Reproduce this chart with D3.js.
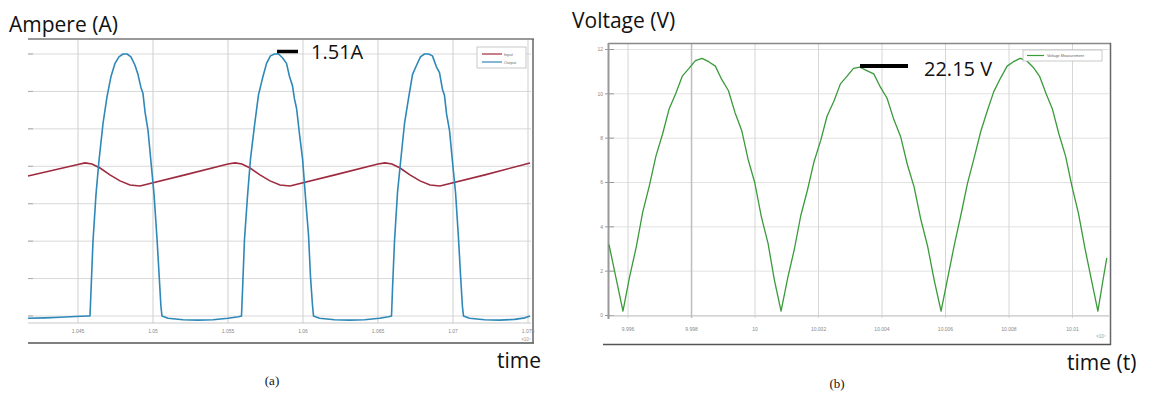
<!DOCTYPE html>
<html>
<head>
<meta charset="utf-8">
<script src="https://cdn.jsdelivr.net/npm/d3@7"></script>
<style>
  html, body { margin: 0; padding: 0; background: #fff; }
  svg { display: block; }
</style>
</head>
<body>
<svg id="chart" width="1154" height="403"></svg>
<script>
// ---------------- DATA ----------------
// Panel (a): current (A) vs time (x10^4)
const timeTicksA = [1.045, 1.05, 1.055, 1.06, 1.065, 1.07, 1.075];
const ampTicks = [0, 0.2, 0.4, 0.6, 0.8, 1.0, 1.2, 1.4];

const inputTime = [1.04167, 1.0450, 1.04547, 1.04593, 1.04647, 1.04713, 1.0478, 1.04847, 1.04913, 1.05213, 1.0550, 1.05547, 1.05593, 1.05647, 1.05713, 1.0578, 1.05847, 1.05913, 1.06213, 1.0650, 1.06547, 1.06593, 1.06647, 1.06713, 1.0678, 1.06847, 1.06913, 1.07213, 1.07513];
const inputAmp  = [0.748, 0.810, 0.818, 0.812, 0.791, 0.754, 0.722, 0.700, 0.695, 0.754, 0.812, 0.818, 0.812, 0.791, 0.754, 0.722, 0.700, 0.695, 0.754, 0.812, 0.818, 0.812, 0.791, 0.754, 0.722, 0.700, 0.695, 0.754, 0.818];

const outputTime = [
  1.04167, 1.0428, 1.0438, 1.0448, 1.04567,
  1.0458, 1.04587, 1.0460, 1.0462, 1.0464, 1.04667, 1.04693, 1.0472, 1.04747, 1.04773, 1.0480, 1.04827, 1.04853, 1.0488, 1.0490, 1.0492, 1.04933, 1.04947, 1.04967, 1.04987, 1.05007, 1.05027, 1.0504, 1.05053, 1.0506,
  1.0510, 1.0520, 1.0530, 1.0540, 1.0550, 1.0557,
  1.0559, 1.05597, 1.0561, 1.0563, 1.0565, 1.05677, 1.05703, 1.0573, 1.05757, 1.05783, 1.0581, 1.05837, 1.05863, 1.0589, 1.0591, 1.0593, 1.05943, 1.05957, 1.05977, 1.05997, 1.06017, 1.06037, 1.0605, 1.06063, 1.0607,
  1.0611, 1.0621, 1.0631, 1.0641, 1.0651, 1.0657,
  1.0659, 1.06597, 1.0661, 1.0663, 1.0665, 1.06677, 1.06703, 1.0673, 1.06757, 1.06783, 1.0681, 1.06837, 1.06863, 1.0689, 1.0691, 1.0693, 1.06943, 1.06957, 1.06977, 1.06997, 1.07017, 1.07037, 1.0705, 1.07063, 1.0707,
  1.0711, 1.0721, 1.0731, 1.0741, 1.0748, 1.07513
];
const outputAmp = [
  -0.012, -0.010, -0.007, -0.003, 0.0,
  0.0, 0.14, 0.40, 0.65, 0.83, 1.03, 1.17, 1.28, 1.35, 1.385, 1.40, 1.40, 1.385, 1.34, 1.29, 1.22, 1.19, 1.09, 0.99, 0.82, 0.65, 0.41, 0.23, 0.05, 0.0,
  -0.012, -0.020, -0.022, -0.020, -0.012, -0.004,
  0.0, 0.14, 0.41, 0.64, 0.84, 1.02, 1.18, 1.27, 1.35, 1.39, 1.40, 1.40, 1.38, 1.35, 1.28, 1.23, 1.16, 1.11, 0.97, 0.84, 0.63, 0.43, 0.21, 0.06, 0.0,
  -0.012, -0.020, -0.022, -0.020, -0.012, -0.004,
  0.0, 0.15, 0.40, 0.66, 0.82, 1.03, 1.16, 1.29, 1.34, 1.385, 1.40, 1.40, 1.39, 1.33, 1.30, 1.21, 1.18, 1.08, 0.99, 0.82, 0.66, 0.41, 0.22, 0.05, 0.0,
  -0.012, -0.020, -0.022, -0.018, -0.010, 0.0
];

// Panel (b): voltage (V) vs time (x10^4)
const timeTicksB = [9.996, 9.998, 10, 10.002, 10.004, 10.006, 10.008, 10.01];
const voltTicks = [0, 2, 4, 6, 8, 10, 12];

const voltTime = [
  9.9954, 9.99562, 9.99584,
  9.99605, 9.99626, 9.99646, 9.99667, 9.99688, 9.99709, 9.99729, 9.99750, 9.99771, 9.99792, 9.99812, 9.99833,
  9.99854, 9.99875, 9.99895, 9.99916, 9.99937, 9.99958, 9.99978, 9.99999, 10.00020, 10.00041, 10.00061, 10.00082,
  10.00103, 10.00124, 10.00144, 10.00165, 10.00186, 10.00207, 10.00227, 10.00248, 10.00269, 10.00290, 10.00310, 10.00331,
  10.00352, 10.00374, 10.00395, 10.00416, 10.00437, 10.00459, 10.00480, 10.00501, 10.00522, 10.00544, 10.00565, 10.00586,
  10.00607, 10.00628, 10.00648, 10.00669, 10.00690, 10.00711, 10.00731, 10.00752, 10.00773, 10.00794, 10.00814, 10.00835,
  10.00855, 10.00876, 10.00896, 10.00917, 10.00937, 10.00957, 10.00978, 10.00998, 10.01019, 10.01039, 10.01059, 10.01080,
  10.01095, 10.01108
];
const voltValue = [
  3.2, 1.7, 0.2,
  1.75, 3.1, 4.65, 5.85, 7.2, 8.2, 9.3, 10.0, 10.8, 11.15, 11.5, 11.6,
  11.45, 11.25, 10.65, 10.15, 9.15, 8.35, 7.05, 6.0, 4.45, 3.25, 1.6, 0.2,
  1.7, 3.0, 4.5, 5.65, 6.95, 7.9, 9.0, 9.65, 10.45, 10.8, 11.15, 11.2,
  11.05, 10.9, 10.3, 9.8, 8.85, 8.05, 6.8, 5.8, 4.35, 3.1, 1.55, 0.2,
  1.7, 3.2, 4.5, 5.95, 7.1, 8.3, 9.2, 10.1, 10.7, 11.25, 11.45, 11.6,
  11.5, 11.2, 10.8, 10.0, 9.3, 8.2, 7.2, 5.85, 4.6, 3.05, 1.65, 0.2,
  1.5, 2.6
];

// ---------------- DRAW ----------------
const svg = d3.select("#chart");
const FONT = "'Open Sans', 'Noto Sans', sans-serif";

// ===== Panel (a) =====
const xA = d3.scaleLinear().domain([1.041667, 1.0752]).range([28, 531]);
const yA = d3.scaleLinear().domain([0, 1.4]).range([316, 54]);
const gA = svg.append("g");

// grid
gA.selectAll(".hgA").data(ampTicks).enter().append("line")
  .attr("x1", 28).attr("x2", 531)
  .attr("y1", d => yA(d)).attr("y2", d => yA(d))
  .attr("stroke", "#d9d9d9").attr("stroke-width", 1);
gA.selectAll(".vgA").data(timeTicksA).enter().append("line")
  .attr("x1", d => xA(d)).attr("x2", d => xA(d))
  .attr("y1", 40).attr("y2", 323)
  .attr("stroke", "#cfcfcf").attr("stroke-width", 1);
// left tick marks
gA.selectAll(".ytA").data(ampTicks).enter().append("line")
  .attr("x1", 28).attr("x2", 33)
  .attr("y1", d => yA(d)).attr("y2", d => yA(d))
  .attr("stroke", "#aaa").attr("stroke-width", 1);
// inner axis line
gA.append("line").attr("x1", 28).attr("x2", 531).attr("y1", 323).attr("y2", 323)
  .attr("stroke", "#c8c8c8").attr("stroke-width", 1);
// frame
gA.append("line").attr("x1", 28).attr("x2", 534).attr("y1", 39).attr("y2", 39)
  .attr("stroke", "#777").attr("stroke-width", 1.5);
gA.append("line").attr("x1", 28).attr("x2", 534).attr("y1", 343).attr("y2", 343)
  .attr("stroke", "#555").attr("stroke-width", 1.5);
gA.append("line").attr("x1", 533).attr("x2", 533).attr("y1", 39).attr("y2", 343)
  .attr("stroke", "#666").attr("stroke-width", 1.5);

// x tick labels
const fmtA = d3.format("");
gA.selectAll(".xlA").data(timeTicksA).enter().append("text")
  .attr("x", d => xA(d)).attr("y", 333)
  .attr("text-anchor", "middle")
  .attr("font-family", "'Liberation Sans', sans-serif").attr("font-size", 5)
  .attr("fill", "#888").text(d => fmtA(d));
gA.append("text").attr("x", 526).attr("y", 341).attr("text-anchor", "middle")
  .attr("font-family", "'Liberation Sans', sans-serif").attr("font-size", 4.5)
  .attr("fill", "#999").text("×10⁴");

// lines
const lineA = d3.line().x(d => xA(d[0])).y(d => yA(d[1]));
gA.append("path").datum(d3.zip(inputTime, inputAmp))
  .attr("d", lineA).attr("fill", "none")
  .attr("stroke", "#9e2a3e").attr("stroke-width", 1.6);
gA.append("path").datum(d3.zip(outputTime, outputAmp))
  .attr("d", lineA).attr("fill", "none")
  .attr("stroke", "#2e88b8").attr("stroke-width", 1.6).attr("stroke-linejoin", "round");

// legend (a)
const legA = gA.append("g");
legA.append("rect").attr("x", 477).attr("y", 47).attr("width", 49).attr("height", 21)
  .attr("fill", "#fff").attr("stroke", "#bbb").attr("stroke-width", 0.8);
legA.append("line").attr("x1", 482).attr("x2", 502).attr("y1", 54).attr("y2", 54)
  .attr("stroke", "#9e2a3e").attr("stroke-width", 1.2);
legA.append("line").attr("x1", 482).attr("x2", 502).attr("y1", 62).attr("y2", 62)
  .attr("stroke", "#2e88b8").attr("stroke-width", 1.2);
legA.append("text").attr("x", 504).attr("y", 55.5).attr("font-size", 4)
  .attr("font-family", "'Liberation Sans', sans-serif").attr("fill", "#666").text("Input");
legA.append("text").attr("x", 504).attr("y", 63.5).attr("font-size", 4)
  .attr("font-family", "'Liberation Sans', sans-serif").attr("fill", "#666").text("Output");

// annotations (a)
svg.append("text").attr("x", 9).attr("y", 32).attr("font-family", FONT)
  .attr("font-size", 21).attr("fill", "#111").text("Ampere (A)");
svg.append("line").attr("x1", 277).attr("x2", 298).attr("y1", 51.5).attr("y2", 51.5)
  .attr("stroke", "#000").attr("stroke-width", 3.5);
svg.append("text").attr("x", 311).attr("y", 59).attr("font-family", FONT)
  .attr("font-size", 20).attr("fill", "#111").text("1.51A");
svg.append("text").attr("x", 497).attr("y", 368).attr("font-family", FONT)
  .attr("font-size", 21).attr("fill", "#111").text("time");
svg.append("text").attr("x", 272).attr("y", 385).attr("text-anchor", "middle")
  .attr("font-family", "'Liberation Serif', serif").attr("font-size", 13).attr("fill", "#111").text("(a)");

// ===== Panel (b) =====
const xB = d3.scaleLinear().domain([9.9954, 10.01115]).range([609, 1109]);
const yB = d3.scaleLinear().domain([0, 12]).range([315.5, 49.5]);
const gB = svg.append("g");

gB.selectAll(".hgB").data(voltTicks).enter().append("line")
  .attr("x1", 609).attr("x2", 1109)
  .attr("y1", d => yB(d)).attr("y2", d => yB(d))
  .attr("stroke", "#e2e2e2").attr("stroke-width", 1);
gB.selectAll(".vgB").data(timeTicksB).enter().append("line")
  .attr("x1", d => xB(d)).attr("x2", d => xB(d))
  .attr("y1", 44).attr("y2", 318)
  .attr("stroke", (d, i) => (i === 1 ? "#bdbdbd" : "#d6d6d6"))
  .attr("stroke-width", (d, i) => (i === 1 ? 1.5 : 1));
// y ticks
gB.selectAll(".ytB").data(voltTicks).enter().append("line")
  .attr("x1", 605).attr("x2", 614)
  .attr("y1", d => yB(d)).attr("y2", d => yB(d))
  .attr("stroke", "#999").attr("stroke-width", 1);
gB.selectAll(".ylB").data(voltTicks).enter().append("text")
  .attr("x", 603).attr("y", d => yB(d) + 1.8).attr("text-anchor", "end")
  .attr("font-family", "'Liberation Sans', sans-serif").attr("font-size", 5)
  .attr("fill", "#888").text(d => d);
// x tick labels
gB.selectAll(".xlB").data(timeTicksB).enter().append("text")
  .attr("x", d => xB(d)).attr("y", 331)
  .attr("text-anchor", "middle")
  .attr("font-family", "'Liberation Sans', sans-serif").attr("font-size", 5)
  .attr("fill", "#888").text(d => d);
gB.append("text").attr("x", 1101).attr("y", 338).attr("text-anchor", "middle")
  .attr("font-family", "'Liberation Sans', sans-serif").attr("font-size", 4.5)
  .attr("fill", "#999").text("×10⁴");
// axes / frame
gB.append("line").attr("x1", 609).attr("x2", 1109).attr("y1", 316).attr("y2", 316)
  .attr("stroke", "#c4c4c4").attr("stroke-width", 1);
gB.append("line").attr("x1", 608).attr("x2", 1111).attr("y1", 43.5).attr("y2", 43.5)
  .attr("stroke", "#888").attr("stroke-width", 1.5);
gB.append("line").attr("x1", 608.5).attr("x2", 608.5).attr("y1", 43).attr("y2", 319)
  .attr("stroke", "#999").attr("stroke-width", 2);
gB.append("line").attr("x1", 1110.5).attr("x2", 1110.5).attr("y1", 43).attr("y2", 345)
  .attr("stroke", "#666").attr("stroke-width", 1.5);
gB.append("line").attr("x1", 603).attr("x2", 1111).attr("y1", 344.5).attr("y2", 344.5)
  .attr("stroke", "#555").attr("stroke-width", 1.5);

// line
const lineB = d3.line().x(d => xB(d[0])).y(d => yB(d[1]));
gB.append("path").datum(d3.zip(voltTime, voltValue))
  .attr("d", lineB).attr("fill", "none")
  .attr("stroke", "#3a9a3a").attr("stroke-width", 1.3).attr("stroke-linejoin", "round");

// legend (b)
const legB = gB.append("g");
legB.append("rect").attr("x", 1023).attr("y", 50).attr("width", 79).attr("height", 11)
  .attr("fill", "#fff").attr("stroke", "#bbb").attr("stroke-width", 0.8);
legB.append("line").attr("x1", 1027).attr("x2", 1044).attr("y1", 55.5).attr("y2", 55.5)
  .attr("stroke", "#3a9a3a").attr("stroke-width", 1.2);
legB.append("text").attr("x", 1047).attr("y", 57).attr("font-size", 3.8)
  .attr("font-family", "'Liberation Sans', sans-serif").attr("fill", "#666").text("Voltage Measurement");

// annotations (b)
svg.append("text").attr("x", 572).attr("y", 28).attr("font-family", FONT)
  .attr("font-size", 21).attr("fill", "#111").text("Voltage (V)");
svg.append("line").attr("x1", 860).attr("x2", 908).attr("y1", 66).attr("y2", 66)
  .attr("stroke", "#000").attr("stroke-width", 4);
svg.append("text").attr("x", 924).attr("y", 76).attr("font-family", FONT)
  .attr("font-size", 20).attr("fill", "#111").text("22.15 V");
svg.append("text").attr("x", 1067).attr("y", 370).attr("font-family", FONT)
  .attr("font-size", 21).attr("fill", "#111").text("time (t)");
svg.append("text").attr("x", 837).attr("y", 388).attr("text-anchor", "middle")
  .attr("font-family", "'Liberation Serif', serif").attr("font-size", 13).attr("fill", "#111").text("(b)");
</script>
</body>
</html>
